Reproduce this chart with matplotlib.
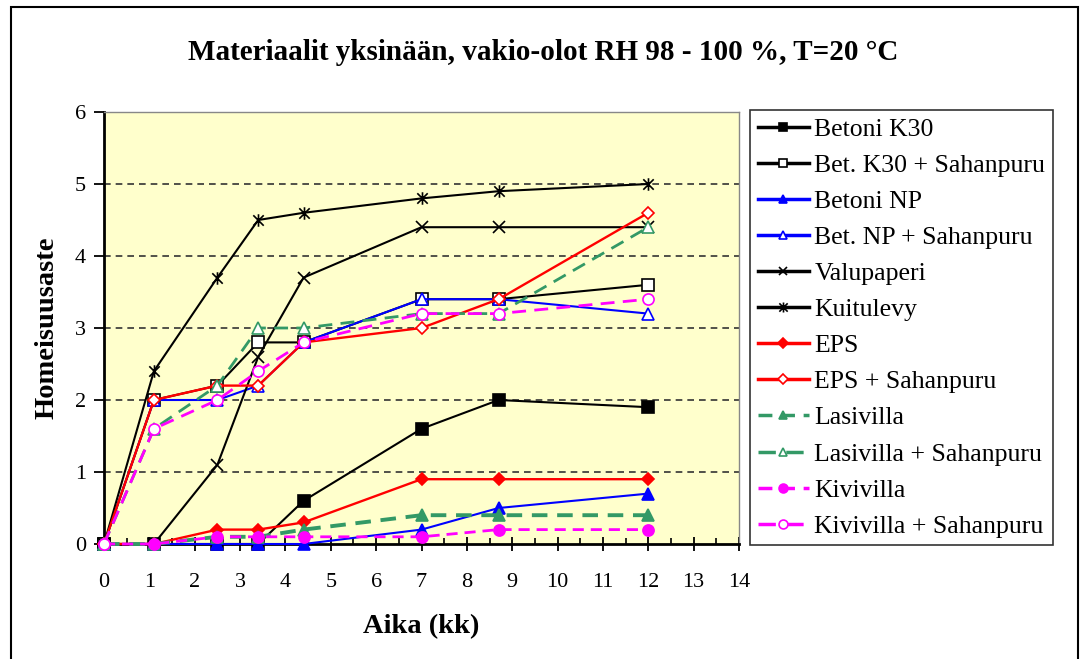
import matplotlib.pyplot as plt
from matplotlib.patches import Rectangle
from matplotlib.path import Path
from matplotlib.ticker import MultipleLocator

plt.rcParams['font.family'] = ['Liberation Serif', 'DejaVu Serif']

# aika (kk)
months = [0, 1.1, 2.5, 3.4, 4.4, 7, 8.7, 12]

betoni_k30 = [0, 0, 0, 0, 0.6, 1.6, 2.0, 1.9]
betoni_k30_s = [0, 2.0, 2.2, 2.8, 2.8, 3.4, 3.4, 3.6]
betoni_np = [0, 0, 0, 0, 0, 0.2, 0.5, 0.7]
betoni_np_s = [0, 2.0, 2.0, 2.2, 2.8, 3.4, 3.4, 3.2]
valupaperi = [0, 0, 1.1, 2.6, 3.7, 4.4, 4.4, 4.4]
kuitulevy = [0, 2.4, 3.7, 4.5, 4.6, 4.8, 4.9, 5.0]
eps = [0, 0, 0.2, 0.2, 0.3, 0.9, 0.9, 0.9]
eps_s = [0, 2.0, 2.2, 2.2, 2.8, 3.0, 3.4, 4.6]
lasivilla = [0, 0, 0.1, 0.1, 0.2, 0.4, 0.4, 0.4]
lasivilla_s = [0, 1.6, 2.2, 3.0, 3.0, 3.2, 3.2, 4.4]
kivivilla = [0, 0, 0.1, 0.1, 0.1, 0.1, 0.2, 0.2]
kivivilla_s = [0, 1.6, 2.0, 2.4, 2.8, 3.2, 3.2, 3.4]

GREEN = '#339966'
MAGENTA = '#FF00FF'

# excel-style star: X with a vertical bar
star = Path([(-1, -1), (1, 1), (-1, 1), (1, -1), (0, -1.2), (0, 1.2)],
            [Path.MOVETO, Path.LINETO, Path.MOVETO, Path.LINETO, Path.MOVETO, Path.LINETO])

# (label, data, color, marker, filled, linestyle, linewidth, markersize)
series = [
    ('Betoni K30', betoni_k30, 'black', 's', True, '-', 1.5, 8),
    ('Bet. K30 + Sahanpuru', betoni_k30_s, 'black', 's', False, '-', 1.5, 8),
    ('Betoni NP', betoni_np, 'blue', '^', True, '-', 1.5, 8),
    ('Bet. NP + Sahanpuru', betoni_np_s, 'blue', '^', False, '-', 1.5, 8),
    ('Valupaperi', valupaperi, 'black', 'x', True, '-', 1.5, 8),
    ('Kuitulevy', kuitulevy, 'black', star, True, '-', 1.5, 9),
    ('EPS', eps, 'red', 'D', True, '-', 1.7, 6),
    ('EPS + Sahanpuru', eps_s, 'red', 'D', False, '-', 1.7, 6),
    ('Lasivilla', lasivilla, GREEN, '^', True, (0, (4, 2.5)), 2.8, 8),
    ('Lasivilla + Sahanpuru', lasivilla_s, GREEN, '^', False, (0, (5, 3)), 2.0, 8),
    ('Kivivilla', kivivilla, MAGENTA, 'o', True, (0, (4, 2.5)), 2.0, 8),
    ('Kivivilla + Sahanpuru', kivivilla_s, MAGENTA, 'o', False, (0, (5, 3)), 2.0, 8),
]

fig = plt.figure(figsize=(10.85, 6.59), dpi=100)
ax = fig.add_axes([104 / 1085, 1 - 544 / 659, 635 / 1085, 432 / 659])
ax.set_facecolor('#FFFFCC')

for label, data, color, marker, filled, ls, lw, ms in series:
    ax.plot(months, data, color=color, linestyle=ls, linewidth=lw, marker=marker,
            markersize=ms, markerfacecolor=color if filled else 'white',
            markeredgecolor=color, markeredgewidth=1.2, label=label, clip_on=False, zorder=3)

ax.set_xlim(0, 14)
ax.set_ylim(0, 6)
ax.xaxis.set_major_locator(MultipleLocator(1))
ax.xaxis.set_minor_locator(MultipleLocator(0.5))
ax.yaxis.set_major_locator(MultipleLocator(1))
ax.tick_params(axis='x', which='major', direction='inout', length=10, width=1.3, labelsize=16, pad=16)
ax.tick_params(axis='x', which='minor', direction='in', length=4, width=1.2)
ax.tick_params(axis='y', which='major', direction='out', length=7, width=1.3, labelsize=16, pad=6)

for y in range(1, 6):
    ax.axhline(y, color='#333333', linestyle=(0, (4, 3)), linewidth=1.2, zorder=1)

ax.spines['left'].set_linewidth(2)
ax.spines['bottom'].set_linewidth(2)
ax.spines['top'].set_color('#888888')
ax.spines['right'].set_color('#888888')
ax.spines['top'].set_linewidth(1)
ax.spines['right'].set_linewidth(1)

fig.text(421 / 1085, 1 - 627 / 659, 'Aika (kk)', ha='center', va='center',
         fontsize=20.5, fontweight='bold')
fig.text(47 / 1085, 1 - 328 / 659, 'Homeisuusaste', ha='center', va='center',
         rotation=90, fontsize=20.5, fontweight='bold')
fig.text(543 / 1085, 1 - 52 / 659, 'Materiaalit yksinään, vakio-olot RH 98 - 100 %, T=20 °C',
         ha='center', va='center', fontsize=21, fontweight='bold')

leg = fig.legend(loc='upper left', bbox_to_anchor=(750 / 1085, 1 - 110 / 659),
                 fontsize=18.5, frameon=True, fancybox=False, edgecolor='black',
                 handlelength=2.0, handletextpad=0.2, labelspacing=0.51, borderpad=0.3,
                 borderaxespad=0, markerscale=0.8)
leg.get_frame().set_linewidth(1.2)
for line in leg.get_lines():
    line.set_linewidth(2.5)

# outer frame of the chart
fig.patches.append(Rectangle((11 / 1085, -0.05), 1067 / 1085, 1.05 - 7 / 659,
                             transform=fig.transFigure, fill=False,
                             edgecolor='black', linewidth=1.5))

plt.savefig('out.png', dpi=100)
